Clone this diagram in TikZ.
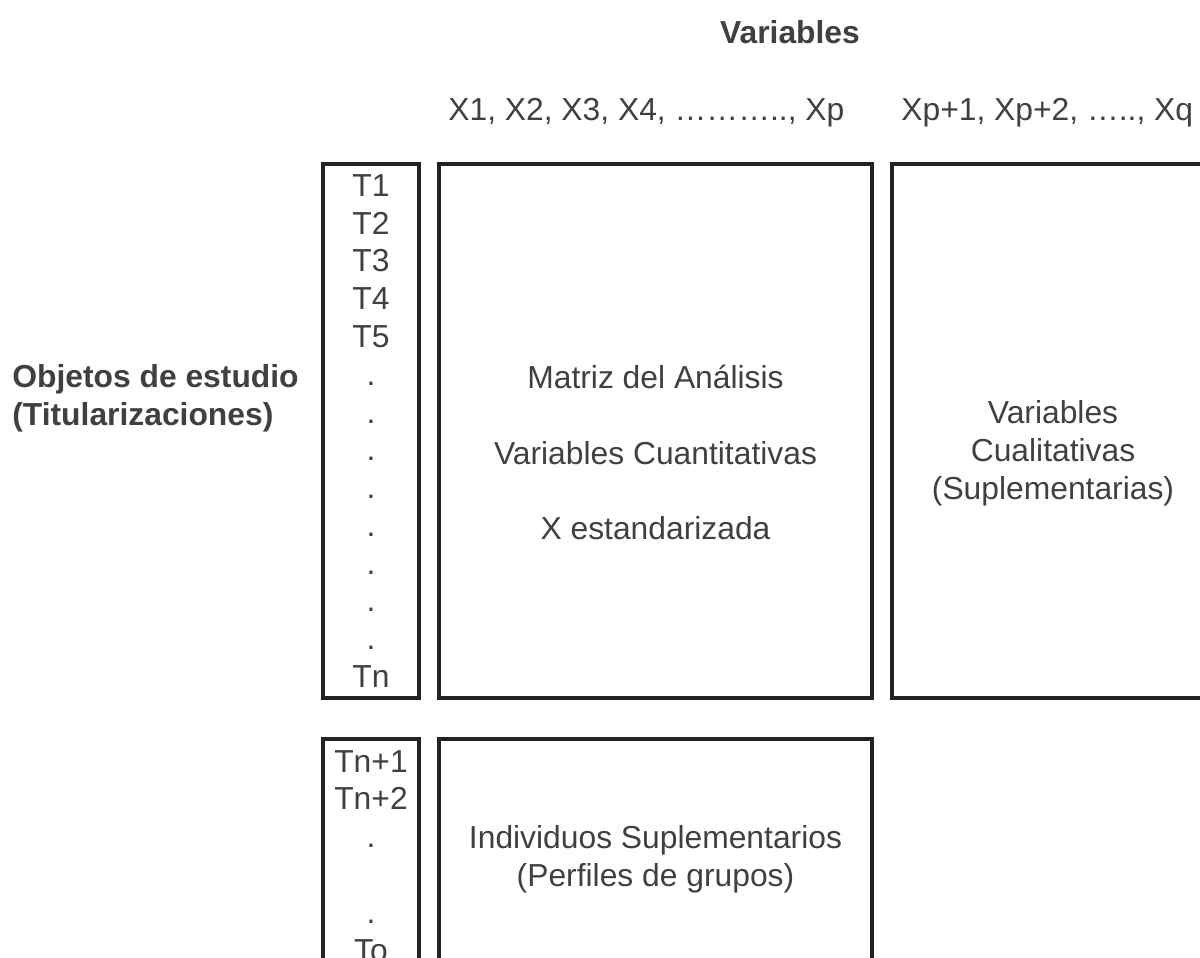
\documentclass[tikz,border=0pt]{standalone}
\usepackage{fontspec}
\setmainfont{Liberation Sans}
\usetikzlibrary{positioning}
\definecolor{tinta}{HTML}{404040}
\definecolor{borde}{HTML}{222222}
\begin{document}
\begin{tikzpicture}[
        caja/.style={draw=borde,line width=1.8pt,inner sep=0pt},
        rotulo/.style={text=tinta,align=center,inner sep=0pt,font=\fontsize{18.1}{21.5}\selectfont},
        titulo/.style={rotulo,font=\fontsize{18.1}{21.5}\selectfont\bfseries}]
                \useasboundingbox (0,0) rectangle (24,-19.14);
                \clip (0,0) rectangle (24,-19.14);
                \node[titulo,anchor=base] (vars) at (15.8,-0.87) {Variables};
                \node[rotulo,anchor=base west] (xcuant) at (8.96,-2.41) {X1, X2, X3, X4, ……….., Xp};
                \node[rotulo,anchor=base west] (xcual) at (18.02,-2.41) {Xp+1, Xp+2, ….., Xq};
                \node[titulo,align=left,anchor=west] (objetos) at (0.24,-7.96) {Objetos de estudio\\(Titularizaciones)};
                \node[caja,rotulo,minimum width=1.92cm,minimum height=10.68cm] (tobs) at (7.42,-8.62) {T1\\T2\\T3\\T4\\T5\\.\\.\\.\\.\\.\\.\\.\\.\\Tn};
                \node[caja,minimum width=8.66cm,minimum height=10.68cm] (matriz) at (13.11,-8.62) {};
                \node[rotulo] (matriztxt) at ([yshift=-0.43cm]matriz.center) {Matriz del Análisis\\[\baselineskip]Variables Cuantitativas\\[\baselineskip]X estandarizada};
                \node[caja,minimum width=6.44cm,minimum height=10.68cm] (cuali) at (21.06,-8.62) {};
                \node[rotulo] (cualitxt) at ([yshift=-0.45cm]cuali.center) {Variables\\Cualitativas\\(Suplementarias)};
                \node[caja,minimum width=1.92cm,minimum height=4.64cm] (tsup) at (7.42,-17.10) {};
                \node[rotulo,below=0.25cm of tsup.north] (tsuptxt) {Tn+1\\Tn+2\\.\\ \\.\\To};
                \node[caja,minimum width=8.66cm,minimum height=4.64cm] (indsup) at (13.11,-17.10) {};
                \node[rotulo] (indsuptxt) at ([yshift=-0.08cm]indsup.center) {Individuos Suplementarios\\(Perfiles de grupos)};
            \end{tikzpicture}
\end{document}
